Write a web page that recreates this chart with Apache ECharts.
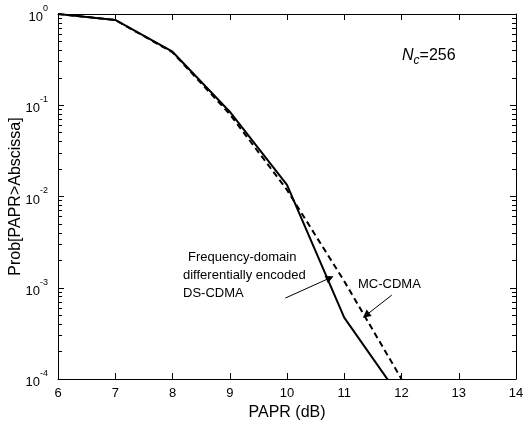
<!DOCTYPE html>
<html>
<head>
<meta charset="utf-8">
<script src="https://cdn.jsdelivr.net/npm/echarts@6/dist/echarts.min.js"></script>
<style>html,body{margin:0;padding:0;background:#fff}#c{width:530px;height:426px}</style>
</head>
<body>
<div id="c"></div>
<script>
const papr = [6, 7, 8, 9, 10, 11, 12];
const solidProb = [1, 0.86, 0.386, 0.085, 0.0134, 0.00047, 0.00006];
const dashedProb = [1, 0.86, 0.38, 0.08, 0.0118, 0.00118, 0.0001];
const xTicks = [6, 7, 8, 9, 10, 11, 12, 13, 14];
const yMajor = [1e-4, 1e-3, 1e-2, 1e-1, 1];
const yMinorExp = [];
[-4, -3, -2, -1].forEach(e => { for (let k = 2; k <= 9; k++) yMinorExp.push(e + Math.log10(k)); });
const seriesNames = ['Frequency-domain differentially encoded DS-CDMA', 'MC-CDMA'];
const annoLines = ['Frequency-domain', 'differentially encoded', 'DS-CDMA'];

const FONT = '"Liberation Sans", Arial, Helvetica, sans-serif';
const chart = echarts.init(document.getElementById('c'));

const LINE = { show: true, onZero: false, lineStyle: { color: '#000', width: 1 } };

function logAx(extra) {
  return Object.assign({
    type: 'log', logBase: 10, min: 1e-4, max: 1,
    axisLine: LINE,
    splitLine: { show: false },
    minorTick: { show: false }
  }, extra);
}
function minorAx(pos) {
  return {
    type: 'value', min: -4, max: 0, position: pos,
    axisLine: { show: false, onZero: false },
    axisTick: { show: true, inside: true, length: 4, customValues: yMinorExp, lineStyle: { color: '#000', width: 1 } },
    axisLabel: { show: false },
    splitLine: { show: false }
  };
}

const option = {
  animation: false,
  backgroundColor: '#fff',
  grid: { left: 58, right: 14, top: 14, bottom: 47, containLabel: false, outerBoundsMode: 'none' },
  xAxis: [
    {
      type: 'value', min: 6, max: 14, interval: 1, position: 'bottom',
      name: 'PAPR (dB)', nameLocation: 'middle', nameGap: 26, nameMoveOverlap: false,
      nameTextStyle: { fontFamily: FONT, fontSize: 16, color: '#000' },
      axisLine: LINE,
      axisTick: { show: true, inside: true, length: 6, customValues: xTicks, lineStyle: { color: '#000', width: 1 } },
      axisLabel: { fontFamily: FONT, fontSize: 13, color: '#000', margin: 8, customValues: xTicks },
      splitLine: { show: false }
    },
    {
      type: 'value', min: 6, max: 14, interval: 1, position: 'top',
      axisLine: LINE,
      axisTick: { show: true, inside: true, length: 6, customValues: xTicks, lineStyle: { color: '#000', width: 1 } },
      axisLabel: { show: false },
      splitLine: { show: false }
    }
  ],
  yAxis: [
    logAx({
      position: 'left',
      name: 'Prob[PAPR>Abscissa]', nameLocation: 'middle', nameGap: 34, nameMoveOverlap: false,
      nameTextStyle: { fontFamily: FONT, fontSize: 16, color: '#000' },
      axisTick: { show: true, inside: true, length: 6, customValues: yMajor, lineStyle: { color: '#000', width: 1 } },
      axisLabel: {
        customValues: yMajor, margin: 10,
        formatter: v => '{b|10}{s|' + Math.round(Math.log10(v)) + '}',
        rich: {
          b: { fontFamily: FONT, fontSize: 13, color: '#000', lineHeight: 20, verticalAlign: 'bottom' },
          s: { fontFamily: FONT, fontSize: 9, color: '#000', lineHeight: 10, verticalAlign: 'top' }
        }
      }
    }),
    logAx({
      position: 'right',
      axisTick: { show: true, inside: true, length: 6, customValues: yMajor, lineStyle: { color: '#000', width: 1 } },
      axisLabel: { show: false }
    }),
    minorAx('left'),
    minorAx('right')
  ],
  series: [
    {
      name: seriesNames[0], type: 'line', xAxisIndex: 0, yAxisIndex: 0,
      data: papr.map((x, i) => [x, solidProb[i]]),
      symbol: 'none', clip: true,
      lineStyle: { color: '#000', width: 2, type: 'solid' },
      markLine: {
        silent: true, symbol: ['none', 'triangle'], symbolSize: 8,
        lineStyle: { color: '#000', width: 1, type: 'solid' },
        itemStyle: { color: '#000' },
        label: { show: false },
        data: [[{ coord: [9.97, 7.7e-4] }, { coord: [10.75, 1.28e-3] }]]
      }
    },
    {
      name: seriesNames[1], type: 'line', xAxisIndex: 0, yAxisIndex: 0,
      data: papr.map((x, i) => [x, dashedProb[i]]),
      symbol: 'none', clip: true,
      lineStyle: { color: '#000', width: 2, type: [6, 4] },
      markLine: {
        silent: true, symbol: ['none', 'triangle'], symbolSize: 8,
        lineStyle: { color: '#000', width: 1, type: 'solid' },
        itemStyle: { color: '#000' },
        label: { show: false },
        data: [[{ coord: [11.83, 8.3e-4] }, { coord: [11.38, 5.0e-4] }]]
      }
    }
  ],
  graphic: [
    {
      type: 'text', left: 402, top: 48,
      style: {
        text: '{i|N}{sub|c}{n|=256}',
        rich: {
          i: { fontFamily: FONT, fontSize: 16, fontStyle: 'italic', fill: '#000' },
          sub: { fontFamily: FONT, fontSize: 12, fontStyle: 'italic', fill: '#000', padding: [9, 0, 0, 0] },
          n: { fontFamily: FONT, fontSize: 16, fill: '#000' }
        }
      }
    },
    { type: 'text', left: 188, top: 251, style: { text: annoLines[0], fontFamily: FONT, fontSize: 13, fill: '#000' } },
    { type: 'text', left: 183, top: 269, style: { text: annoLines[1], fontFamily: FONT, fontSize: 13, fill: '#000' } },
    { type: 'text', left: 183, top: 287, style: { text: annoLines[2], fontFamily: FONT, fontSize: 13, fill: '#000' } },
    { type: 'text', left: 358, top: 278, style: { text: seriesNames[1], fontFamily: FONT, fontSize: 13, fill: '#000' } }
  ]
};
chart.setOption(option);
</script>
</body>
</html>
